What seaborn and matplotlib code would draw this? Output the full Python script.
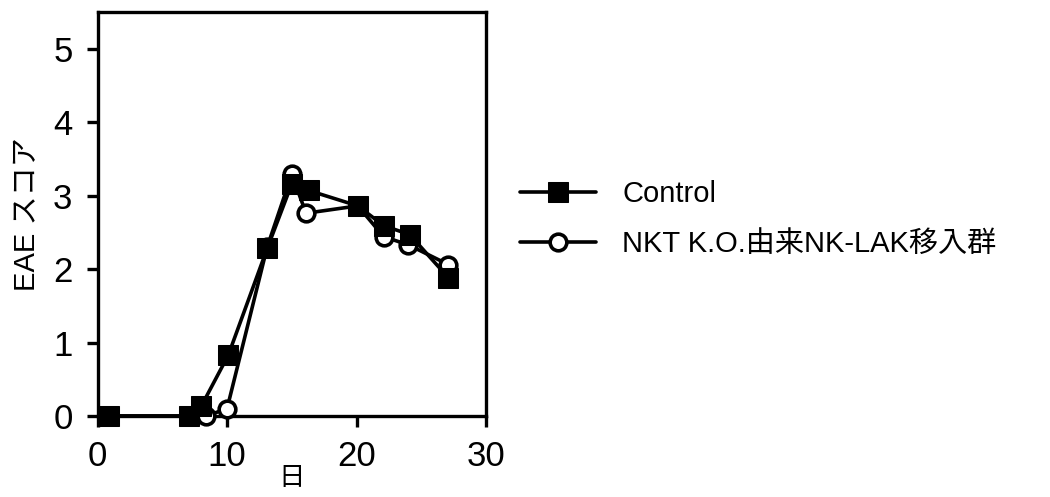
import matplotlib
matplotlib.use("Agg")
import matplotlib.pyplot as plt
import seaborn as sns
import pandas as pd

# Data
control_day = [0.9, 7.1, 8.0, 10.1, 13.1, 15.0, 16.3, 20.1, 22.1, 24.1, 27.1]
control_score = [0.0, 0.0, 0.13, 0.83, 2.28, 3.16, 3.07, 2.86, 2.59, 2.47, 1.88]
nkt_day = [0.9, 8.4, 10.0, 13.1, 15.0, 16.1, 20.1, 22.1, 24.0, 27.1]
nkt_score = [0.0, 0.0, 0.1, 2.3, 3.29, 2.76, 2.86, 2.44, 2.33, 2.06]
series_labels = ["Control", "NKT K.O.由来NK-LAK移入群"]
x_ticks = [0, 10, 20, 30]
y_ticks = [0, 1, 2, 3, 4, 5]
x_label = "日"
y_label = "EAE スコア"

sns.set_style("ticks")
plt.rcParams["font.family"] = ["Liberation Sans", "Noto Sans CJK JP"]
plt.rcParams["text.color"] = "black"
plt.rcParams["axes.labelcolor"] = "black"

df_c = pd.DataFrame({"day": control_day, "score": control_score})
df_n = pd.DataFrame({"day": nkt_day, "score": nkt_score})

fig = plt.figure(figsize=(10.5, 4.97), dpi=100)
ax = fig.add_axes([0.0929, 0.163, 0.370, 0.813])

sns.lineplot(data=df_n, x="day", y="score", ax=ax, sort=False, color="black",
             linewidth=2.6, marker="o", markersize=12, markerfacecolor="white",
             markeredgecolor="black", markeredgewidth=2.6, label=series_labels[1],
             clip_on=False, zorder=3)
sns.lineplot(data=df_c, x="day", y="score", ax=ax, sort=False, color="black",
             linewidth=2.6, marker="s", markersize=14, markerfacecolor="black",
             markeredgecolor="black", label=series_labels[0],
             clip_on=False, zorder=4)

ax.set_xlim(0, 30)
ax.set_ylim(0, 5.5)
ax.set_xticks(x_ticks)
ax.set_yticks(y_ticks)
ax.set_xticklabels([str(t) for t in x_ticks])
ax.set_yticklabels([str(t) for t in y_ticks])
ax.tick_params(axis="both", direction="out", length=8, width=2.4,
               labelsize=25, colors="black", labelcolor="black")
ax.tick_params(axis="x", pad=9)
ax.tick_params(axis="y", pad=10)
for s in ax.spines.values():
    s.set_visible(True)
    s.set_linewidth(2.4)
    s.set_color("black")

ax.set_xlabel(x_label, fontsize=19, labelpad=-5)
ax.set_ylabel(y_label, fontsize=21, labelpad=9)

handles, labels = ax.get_legend_handles_labels()
order = [labels.index(series_labels[0]), labels.index(series_labels[1])]
leg = ax.legend([handles[i] for i in order], [labels[i] for i in order],
                loc="upper left", bbox_to_anchor=(520 / 1050, 1 - 180 / 497),
                bbox_transform=fig.transFigure, frameon=False, fontsize=21,
                handlelength=2.6, handletextpad=0.9, labelspacing=0.75,
                borderpad=0, borderaxespad=0)
for t in leg.get_texts():
    t.set_color("black")

fig.savefig("out.png", dpi=100, facecolor="white")
